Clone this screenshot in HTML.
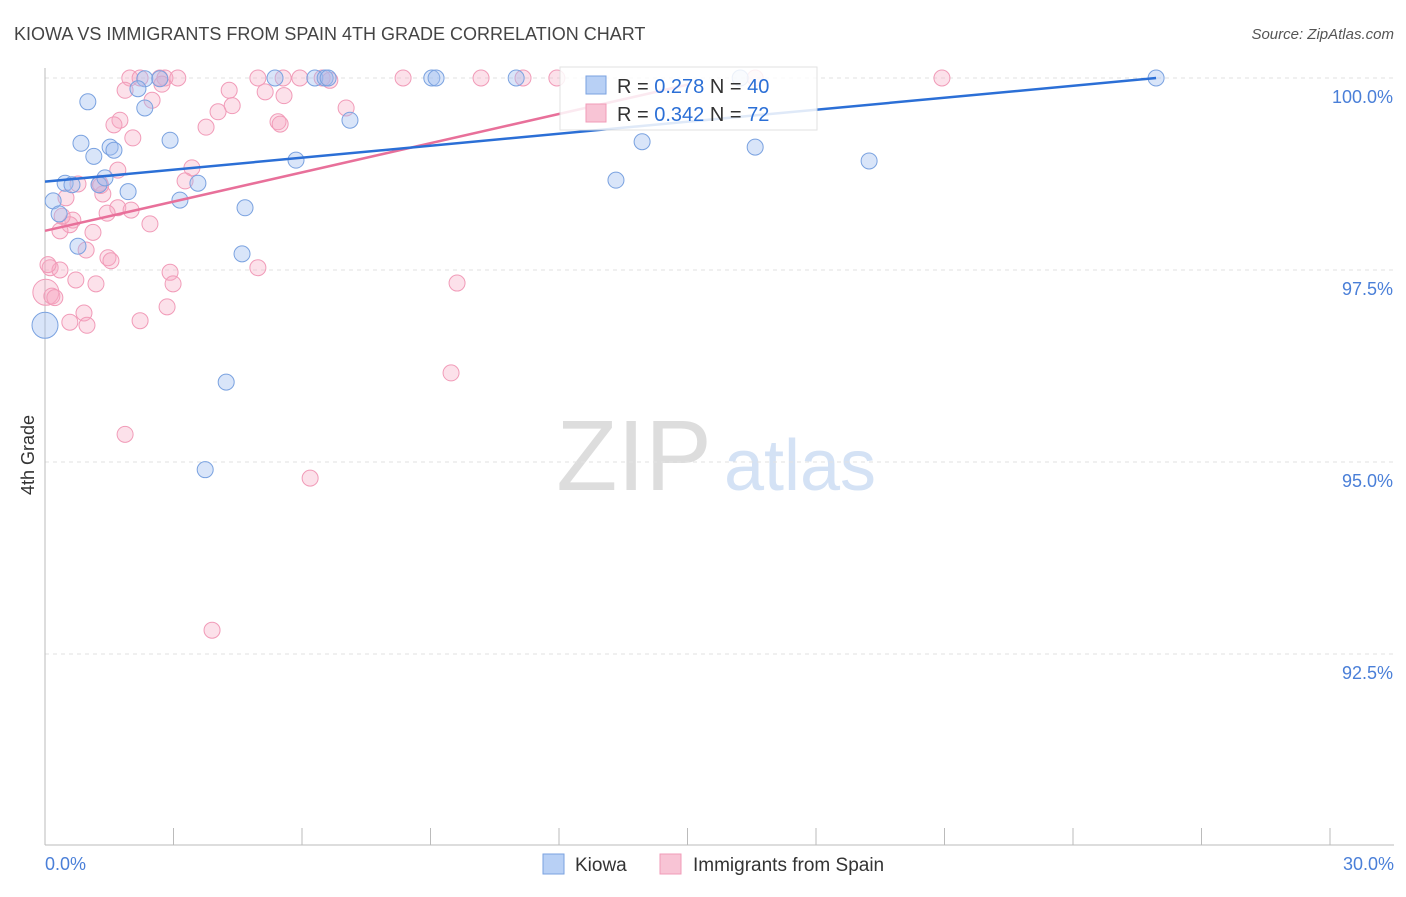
<!DOCTYPE html>
<html><head><meta charset="utf-8">
<style>
body{margin:0;background:#fff;font-family:"Liberation Sans",sans-serif;}
svg text{font-family:"Liberation Sans",sans-serif;}
</style></head>
<body>
<svg id="chart" width="1406" height="892" viewBox="0 0 1406 892" xmlns="http://www.w3.org/2000/svg">
<text x="14" y="40" font-size="18" fill="#444">KIOWA VS IMMIGRANTS FROM SPAIN 4TH GRADE CORRELATION CHART</text>
<text x="1394" y="39" font-size="15" fill="#555" text-anchor="end" font-style="italic">Source: ZipAtlas.com</text>
<g>
<text x="634" y="490" font-size="100" fill="#ddd" text-anchor="middle" font-family="Liberation Serif,serif">ZIP</text>
<text x="800" y="490" font-size="72" fill="#d4e2f5" text-anchor="middle">atlas</text>
</g>
<g id="grid"></g>
<g id="axes"></g>
<g id="points"></g>
<g id="lines"></g>
<g>
<rect x="560" y="67" width="257" height="63" fill="#fff" stroke="#ddd" opacity="0.85"/>
<rect x="586" y="76" width="20" height="18" fill="#b8d0f5" stroke="#7aa2e0"/>
<text x="617" y="93" font-size="20" fill="#333">R = <tspan fill="#2b6fd6">0.278</tspan>   N = <tspan fill="#2b6fd6">40</tspan></text>
<rect x="586" y="104" width="20" height="18" fill="#f8c4d5" stroke="#f19bb8"/>
<text x="617" y="121" font-size="20" fill="#333">R = <tspan fill="#2b6fd6">0.342</tspan>   N = <tspan fill="#2b6fd6">72</tspan></text>
</g>
<g>
<rect x="543" y="854" width="21" height="20" fill="#b8d0f5" stroke="#7aa2e0"/>
<text x="575" y="871" font-size="19" fill="#333">Kiowa</text>
<rect x="660" y="854" width="21" height="20" fill="#f8c4d5" stroke="#f19bb8"/>
<text x="693" y="871" font-size="19" fill="#333">Immigrants from Spain</text>
</g>
<text transform="translate(34,455) rotate(-90)" font-size="18" fill="#333" text-anchor="middle">4th Grade</text>
</svg>
<script>
const kiowaX=[2.33,2.68,2.17,1.00,2.33,0.84,1.14,1.52,1.61,2.92,0.47,0.63,1.26,1.40,1.94,0.19,0.33,0.77,3.15,3.57,4.67,4.60,5.86,5.37,6.30,6.54,6.61,7.12,9.03,9.13,11.0,4.23,3.74,0.0,13.33,13.94,16.58,19.24,25.94,16.23];
const kiowaY=[99.99,99.99,99.86,99.69,99.61,99.15,98.98,99.10,99.06,99.19,98.63,98.61,98.61,98.70,98.52,98.40,98.23,97.81,98.41,98.63,98.31,97.71,98.93,100,100,100,100,99.45,100,100,100,96.04,94.90,96.78,98.67,99.17,99.10,98.92,100,100];
const spainX=[1.98,2.22,2.68,2.80,3.10,4.97,5.56,5.95,6.47,8.36,10.18,11.16,11.95,20.94,16.58,1.87,2.50,2.73,4.30,5.14,5.58,4.04,4.37,7.03,3.76,5.44,5.49,1.75,1.61,2.05,3.43,3.27,1.70,0.77,1.28,1.35,0.49,1.70,2.01,1.45,2.45,0.65,0.58,0.35,1.12,0.96,1.47,1.54,0.12,0.35,2.92,4.97,0.72,1.19,2.99,0.02,0.16,2.85,0.91,0.58,0.98,2.22,9.62,9.48,1.87,6.19,3.90,0.07,0.23,6.65,1.30,0.40];
const spainY=[100,100,100,100,100,100,100,100,100,100,100,100,100,100,100,99.84,99.71,99.92,99.84,99.82,99.77,99.56,99.64,99.61,99.36,99.43,99.40,99.45,99.39,99.22,98.83,98.66,98.80,98.62,98.63,98.49,98.44,98.31,98.28,98.24,98.10,98.15,98.09,98.01,97.99,97.76,97.66,97.62,97.53,97.50,97.47,97.53,97.37,97.32,97.32,97.21,97.16,97.02,96.94,96.82,96.78,96.84,97.33,96.16,95.36,94.79,92.81,97.57,97.14,99.97,98.60,98.20];
const kiowaTrendX=[0,25.94];
const kiowaTrendY=[98.65,100.0];
const spainTrendX=[0,15.06];
const spainTrendY=[98.01,99.92];
const yTicks=[100,97.5,95,92.5];
const yTickLabels=["100.0%","97.5%","95.0%","92.5%"];
const xTicks=[0,3,6,9,12,15,18,21,24,27,30];

const NS="http://www.w3.org/2000/svg";
const X0=45,X1=1330,Ytop=78;
const xs=v=>X0+(v/30)*(X1-X0);
const ys=v=>Ytop+(100-v)/2.5*192;
function mk(tag,attrs,parent){const e=document.createElementNS(NS,tag);for(const k in attrs)e.setAttribute(k,attrs[k]);document.getElementById(parent).appendChild(e);return e;}

yTicks.forEach((t,i)=>{
  const l=mk('line',{x1:X0,x2:1394,y1:ys(t),y2:ys(t),stroke:'#e2e2e2','stroke-dasharray':'4,4'},'grid');
  
  
  const tx=mk('text',{x:1393,y:ys(t)+25,'font-size':18,fill:'#4a7fd8','text-anchor':'end'},'axes');
  tx.textContent=yTickLabels[i];
  
  
});
const ax=mk('line',{x1:X0,x2:X0,y1:68,y2:845,stroke:'#bbb'},'axes');


const bx=mk('line',{x1:X0,x2:1394,y1:845,y2:845,stroke:'#bbb'},'axes');


xTicks.forEach(t=>{
  const tk=mk('line',{x1:xs(t),x2:xs(t),y1:828,y2:845,stroke:'#bbb'},'axes');
  
  
});
const xl0=mk('text',{x:45,y:870,'font-size':18,fill:'#4a7fd8'},'axes');xl0.textContent='0.0%';


const xl1=mk('text',{x:1394,y:870,'font-size':18,fill:'#4a7fd8','text-anchor':'end'},'axes');xl1.textContent='30.0%';



spainX.forEach((v,i)=>{
  const big=(v<0.05&&spainY[i]>97&&spainY[i]<97.3);
  const c=mk('circle',{cx:xs(v),cy:ys(spainY[i]),r:big?13:8,fill:'rgba(245,170,195,0.35)',stroke:'#f19bb8','stroke-width':1},'points');
  
  
});
kiowaX.forEach((v,i)=>{
  const big=(v===0);
  const c=mk('circle',{cx:xs(v),cy:ys(kiowaY[i]),r:big?13:8,fill:'rgba(160,190,240,0.4)',stroke:'#7aa2e0','stroke-width':1},'points');
  
  
});
const tl1=mk('line',{x1:xs(spainTrendX[0]),y1:ys(spainTrendY[0]),x2:xs(spainTrendX[1]),y2:ys(spainTrendY[1]),stroke:'#e8709a','stroke-width':2.5},'lines');


const tl2=mk('line',{x1:xs(kiowaTrendX[0]),y1:ys(kiowaTrendY[0]),x2:xs(kiowaTrendX[1]),y2:ys(kiowaTrendY[1]),stroke:'#2b6fd6','stroke-width':2.5},'lines');


</script>
</body></html>
